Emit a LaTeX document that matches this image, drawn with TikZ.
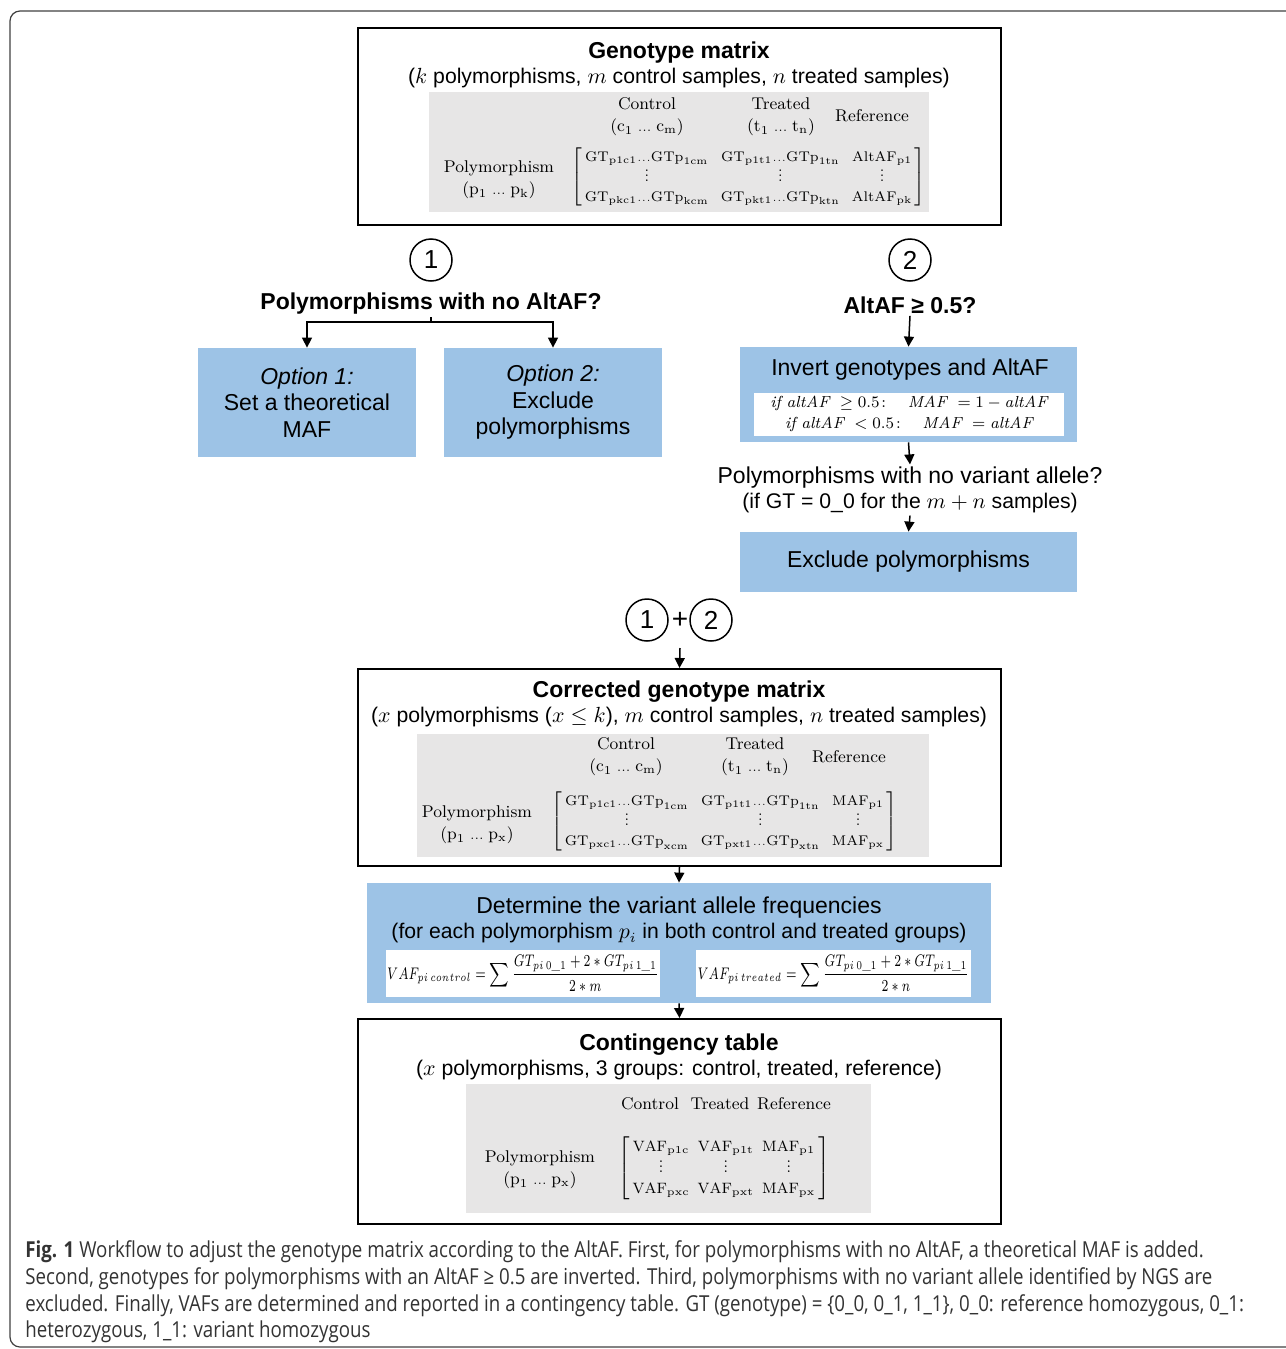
\documentclass[tikz,border=0pt]{standalone}
\usepackage{amsmath}
\usepackage{graphicx}
\usepackage{fontspec}
\usetikzlibrary{arrows.meta}
\newfontfamily\arialfont{Liberation Sans}
\newfontfamily\capfont[FakeStretch=0.85]{Open Sans}
\definecolor{boxblue}{HTML}{9DC3E6}
\definecolor{panelgray}{HTML}{E7E6E6}
\newcommand{\sdots}{{\scriptscriptstyle\ldots}}
\newcommand{\rowdots}{\;{\scriptstyle\ldots}\;}
\newcommand{\mvdots}{\vbox{\baselineskip2.4pt\lineskiplimit0pt\kern0.5pt\hbox{.}\hbox{.}\hbox{.}}}

\begin{document}
\begin{tikzpicture}[x=0.5pt, y=-0.5pt,
	frame/.style={draw=black, line width=1pt, minimum width=321.5pt, minimum height=98.5pt, inner sep=0pt},
	bluebox/.style={fill=boxblue, inner sep=0pt},
	panel/.style={fill=panelgray, inner sep=0pt},
	whitebox/.style={fill=white, inner sep=0pt, align=center},
	head/.style={font=\arialfont\bfseries\fontsize{11.5}{14}\selectfont, inner sep=1pt},
	body/.style={font=\arialfont\fontsize{11.5}{13.25}\selectfont, align=center, inner sep=1pt},
	sub/.style={font=\arialfont\fontsize{10.6}{13}\selectfont, align=center, inner sep=1pt},
	mat/.style={font=\fontsize{8.5}{11}\selectfont, align=center, inner sep=0pt},
	matx/.style={font=\fontsize{7}{10}\selectfont, inner sep=0pt},
	numcirc/.style={circle, draw, line width=0.75pt, minimum size=21pt, inner sep=0pt, font=\arialfont\fontsize{13}{13}\selectfont},
	arr/.style={-{Triangle[length=5pt, width=5pt]}, line width=0.75pt},
	capline/.style={anchor=base west, inner sep=0pt, text=black!80, font=\capfont\fontsize{11}{13}\selectfont}]
	% \draw[help lines] (0,0) grid[step=100] (1285,1349);
	\useasboundingbox (0,0) rectangle (1285,1349);
	\draw[rounded corners=5pt, line width=0.6pt, black!75] (10,11) rectangle (1330,1347);

	% genotype matrix
	\node[frame] (gm) at (679.5,126.5) {};
	\node[head] (gmtitle) at (679,53) {Genotype matrix};
	\node[sub] (gmsub) at (679,78) {($k$ polymorphisms, $m$ control samples, $n$ treated samples)};
	\node[panel, minimum width=250pt, minimum height=60pt] (gmpanel) at (679,152) {};
	\node[mat] (gmctl) at (647,117) {Control\\($\mathrm{c}_1\rowdots\mathrm{c}_\mathrm{m}$)};
	\node[mat] (gmtrt) at (781,117) {Treated\\($\mathrm{t}_1\rowdots\mathrm{t}_\mathrm{n}$)};
	\node[mat] (gmref) at (872,116) {Reference};
	\node[mat] (gmrow) at (499,180) {Polymorphism\\($\mathrm{p}_1\rowdots\mathrm{p}_\mathrm{k}$)};
	\node[matx] (gmmat) at (748.5,177) {$\left[\begin{array}{@{\,}c@{\hspace{6pt}}c@{\hspace{6pt}}c@{\,}}
		\mathrm{GT}_{\mathrm{p1c1}}\sdots\mathrm{GTp}_{\mathrm{1cm}} & \mathrm{GT}_{\mathrm{p1t1}}\sdots\mathrm{GTp}_{\mathrm{1tn}} & \mathrm{AltAF}_{\mathrm{p1}}\\
		\mvdots & \mvdots & \mvdots\\
		\mathrm{GT}_{\mathrm{pkc1}}\sdots\mathrm{GTp}_{\mathrm{kcm}} & \mathrm{GT}_{\mathrm{pkt1}}\sdots\mathrm{GTp}_{\mathrm{ktn}} & \mathrm{AltAF}_{\mathrm{pk}}
	\end{array}\right]$};

	% step 1
	\node[numcirc] (c1) at (431,260) {1};
	\node[head] (q1) at (431,304) {Polymorphisms with no AltAF?};
	\coordinate (split) at (431,322);
	\node[bluebox, body, minimum width=109pt, minimum height=54.5pt] (opt1) at (307,402.5) {\textit{Option 1:}\\Set a theoretical\\MAF};
	\node[bluebox, body, minimum width=109pt, minimum height=54.5pt] (opt2) at (553,402.5) {\textit{Option 2:}\\Exclude\\polymorphisms};
	\draw[line width=0.75pt] (q1.south) -- (split);
	\draw[arr] (split) -| (opt1.north);
	\draw[arr] (split) -| (opt2.north);

	% step 2
	\node[numcirc] (c2) at (910,260) {2};
	\node[head] (q2) at (910,305) {AltAF ≥ 0.5?};
	\node[bluebox, minimum width=168.5pt, minimum height=47.5pt] (inv) at (908.5,394.5) {};
	\node[body] (invtitle) at (910,370) {Invert genotypes and AltAF};
	\node[whitebox, minimum width=155pt, minimum height=21.5pt, font=\fontsize{8}{10.5}\selectfont] (invrule) at (909,414)
		{$\mathit{if}\ \mathit{altAF}\ \geq 0.5\colon\quad \mathit{MAF}\ = 1 - \mathit{altAF}$\\$\mathit{if}\ \mathit{altAF}\ < 0.5\colon\quad \mathit{MAF}\ = \mathit{altAF}$};
	\node[body] (q3) at (910,490) {Polymorphisms with no variant allele?\\[-0.6pt]\fontsize{10.6}{13}\selectfont(if GT = 0\_0 for the $m+n$ samples)};
	\node[bluebox, body, minimum width=168.5pt, minimum height=30pt] (excl) at (908.5,562) {\raisebox{-2pt}{Exclude polymorphisms}};
	\draw[arr] (q2.south) -- (inv.north);
	\draw[arr] (inv.south) -- (q3.north);
	\draw[arr] (q3.south) -- (excl.north);

	% 1 + 2
	\node[numcirc] (j1) at (647,620) {1};
	\node[body, font=\arialfont\fontsize{14}{14}\selectfont] (plus) at (680,620) {+};
	\node[numcirc] (j2) at (711,620) {2};
	\coordinate (join) at (680,648);

	% corrected genotype matrix
	\node[frame] (corr) at (679.5,767.5) {};
	\node[head] (corrtitle) at (679,692) {Corrected genotype matrix};
	\node[sub] (corrsub) at (679,717) {($x$ polymorphisms ($x\leq k$), $m$ control samples, $n$ treated samples)};
	\node[panel, minimum width=256pt, minimum height=61.5pt] (corrpanel) at (673,795.5) {};
	\node[mat] (corrctl) at (626,757) {Control\\($\mathrm{c}_1\rowdots\mathrm{c}_\mathrm{m}$)};
	\node[mat] (corrtrt) at (755,757) {Treated\\($\mathrm{t}_1\rowdots\mathrm{t}_\mathrm{n}$)};
	\node[mat] (corrref) at (849,757) {Reference};
	\node[mat] (corrrow) at (477,825) {Polymorphism\\($\mathrm{p}_1\rowdots\mathrm{p}_\mathrm{x}$)};
	\node[matx] (corrmat) at (724.5,821.5) {$\left[\begin{array}{@{\,}c@{\hspace{6pt}}c@{\hspace{6pt}}c@{\,}}
		\mathrm{GT}_{\mathrm{p1c1}}\sdots\mathrm{GTp}_{\mathrm{1cm}} & \mathrm{GT}_{\mathrm{p1t1}}\sdots\mathrm{GTp}_{\mathrm{1tn}} & \mathrm{MAF}_{\mathrm{p1}}\\
		\mvdots & \mvdots & \mvdots\\
		\mathrm{GT}_{\mathrm{pxc1}}\sdots\mathrm{GTp}_{\mathrm{xcm}} & \mathrm{GT}_{\mathrm{pxt1}}\sdots\mathrm{GTp}_{\mathrm{xtn}} & \mathrm{MAF}_{\mathrm{px}}
	\end{array}\right]$};
	\draw[arr] (join) -- (corr.north);

	% variant allele frequencies
	\node[bluebox, minimum width=312pt, minimum height=60pt] (vaf) at (679,943) {};
	\node[body] (vaftitle) at (679,920) {Determine the variant allele frequencies\\[-0.6pt]\fontsize{10.6}{13}\selectfont(for each polymorphism $p_i$ in both control and treated groups)};
	\node[whitebox, minimum width=137pt, minimum height=23.5pt, font=\fontsize{7}{8}\selectfont] (vafc) at (523,973.5)
		{\scalebox{0.86}[1.2]{$\displaystyle VAF_{pi\,control}=\sum\frac{GT_{pi\,0\_1}+2*GT_{pi\,1\_1}}{2*m}$}};
	\node[whitebox, minimum width=137.5pt, minimum height=23.5pt, font=\fontsize{7}{8}\selectfont] (vaft) at (833.5,973.5)
		{\scalebox{0.86}[1.2]{$\displaystyle VAF_{pi\,treated}=\sum\frac{GT_{pi\,0\_1}+2*GT_{pi\,1\_1}}{2*n}$}};
	\draw[arr] (corr.south) -- (vaf.north);

	% contingency table
	\node[frame, minimum height=102.5pt] (cont) at (679.5,1121.5) {};
	\node[head] (conttitle) at (679,1045) {Contingency table};
	\node[sub] (contsub) at (679,1070) {($x$ polymorphisms, 3 groups: control, treated, reference)};
	\node[panel, minimum width=202.5pt, minimum height=64.5pt] (contpanel) at (668.5,1148.5) {};
	\node[mat] (contctl) at (650,1104) {Control};
	\node[mat] (conttrt) at (720,1104) {Treated};
	\node[mat] (contref) at (794,1104) {Reference};
	\node[mat] (controw) at (540,1170) {Polymorphism\\($\mathrm{p}_1\rowdots\mathrm{p}_\mathrm{x}$)};
	\node[matx, font=\fontsize{7.5}{10.5}\selectfont] (contmat) at (724,1168) {$\left[\begin{array}{@{\,}c@{\hspace{4pt}}c@{\hspace{4pt}}c@{\,}}
		\mathrm{VAF}_{\mathrm{p1c}} & \mathrm{VAF}_{\mathrm{p1t}} & \mathrm{MAF}_{\mathrm{p1}}\\
		\mvdots & \mvdots & \mvdots\\
		\mathrm{VAF}_{\mathrm{pxc}} & \mathrm{VAF}_{\mathrm{pxt}} & \mathrm{MAF}_{\mathrm{px}}
	\end{array}\right]$};
	\draw[arr] (vaf.south) -- (cont.north);

	% caption
	\node[capline] (cap1) at (25,1257) {\textbf{Fig. 1} Workflow to adjust the genotype matrix according to the AltAF. First, for polymorphisms with no AltAF, a theoretical MAF is added.};
	\node[capline] (cap2) at (25,1284) {Second, genotypes for polymorphisms with an AltAF ≥ 0.5 are inverted. Third, polymorphisms with no variant allele identified by NGS are};
	\node[capline] (cap3) at (25,1311) {excluded. Finally, VAFs are determined and reported in a contingency table. GT (genotype) = \{0\_0, 0\_1, 1\_1\}, 0\_0: reference homozygous, 0\_1:};
	\node[capline] (cap4) at (25,1337) {heterozygous, 1\_1: variant homozygous};
\end{tikzpicture}
\end{document}
